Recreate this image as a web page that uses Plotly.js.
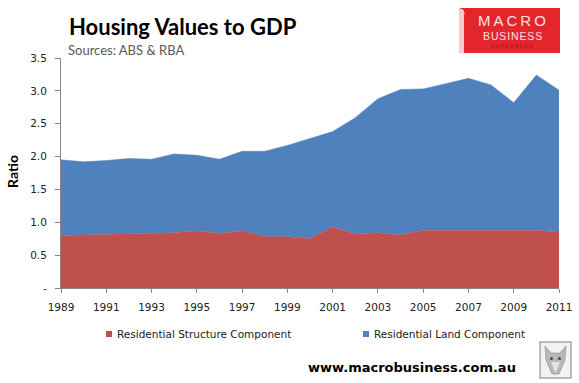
<!DOCTYPE html>
<html>
<head>
<meta charset="utf-8">
<script src="https://cdn.plot.ly/plotly-3.0.1.min.js"></script>
<style>html,body{margin:0;padding:0;background:#fff;}#chart{width:579px;height:383px;}</style>
</head>
<body>
<div id="chart"></div>
<script>
const years = [1989,1990,1991,1992,1993,1994,1995,1996,1997,1998,1999,2000,2001,2002,2003,2004,2005,2006,2007,2008,2009,2010,2011];
const structure = [0.80,0.81,0.82,0.83,0.83,0.84,0.87,0.83,0.87,0.78,0.78,0.755,0.93,0.82,0.84,0.81,0.88,0.88,0.89,0.89,0.88,0.88,0.85];
const land = [1.15,1.11,1.12,1.14,1.13,1.20,1.15,1.13,1.21,1.30,1.39,1.525,1.45,1.77,2.04,2.21,2.15,2.23,2.30,2.20,1.94,2.36,2.16];
const seriesNames = ["Residential Structure Component","Residential Land Component"];
const xTickVals = [1989,1991,1993,1995,1997,1999,2001,2003,2005,2007,2009,2011];
const yTickVals = [0,0.5,1.0,1.5,2.0,2.5,3.0,3.5];
const yTickText = ["-","0.5","1.0","1.5","2.0","2.5","3.0","3.5"];
const titleText = "Housing Values to GDP";
const subtitleText = "Sources: ABS & RBA";
const yTitleText = "Ratio";
const footerText = "www.macrobusiness.com.au";

const RED = "#C0504D", BLUE = "#4F81BD";
const L = 61, R = 20, T = 58, B = 95, W = 579, H = 383;
const pw = W - L - R, ph = H - T - B;
const px = x => (x - L) / pw;
const py = y => (H - B - y) / ph;

const traces = [
  {x: years, y: structure, name: seriesNames[0], type: "scatter", mode: "lines", stackgroup: "one",
   line: {color: RED, width: 0.5}, fillcolor: RED, hoverinfo: "skip"},
  {x: years, y: land, name: seriesNames[1], type: "scatter", mode: "lines", stackgroup: "one",
   line: {color: BLUE, width: 0.5}, fillcolor: BLUE, hoverinfo: "skip"}
];

const tickFont = {family: "DejaVu Sans", size: 10.5, color: "#222"};
const ann = (text, x, y, font, extra) => Object.assign({text, xref: "paper", yref: "paper", x: px(x), y: py(y),
  xanchor: "center", yanchor: "middle", showarrow: false, borderpad: 0, font}, extra || {});

const layout = {
  width: W, height: H,
  margin: {l: L, r: R, t: T, b: B, pad: 0},
  paper_bgcolor: "#fff", plot_bgcolor: "#fff",
  showlegend: false,
  xaxis: {range: [1989, 2011], tickvals: xTickVals, showgrid: false, zeroline: false,
          showline: true, linecolor: "#868686", linewidth: 1, ticks: "outside", ticklen: 4,
          tickcolor: "#868686", tickfont: tickFont, ticklabelstandoff: 5, fixedrange: true},
  yaxis: {range: [0, 3.5], tickvals: yTickVals, ticktext: yTickText, showgrid: false, zeroline: false,
          showline: true, linecolor: "#868686", linewidth: 1, ticks: "outside", ticklen: 5,
          tickcolor: "#868686", tickfont: tickFont, ticklabelstandoff: 6, fixedrange: true},
  shapes: [
    // logo
    {type: "rect", xref: "paper", yref: "paper", x0: px(459), x1: px(560), y0: py(53), y1: py(8),
     fillcolor: "#E3262B", line: {width: 0}, layer: "above"},
    {type: "path", xref: "paper", yref: "paper",
     path: `M ${px(459)} ${py(8)} Q ${px(466)} ${py(9)} ${px(464)} ${py(16)} L ${px(464)} ${py(53)} L ${px(459)} ${py(53)} Z`,
     fillcolor: "#F6C9CA", line: {width: 0}, layer: "above"},
    // legend swatches
    {type: "rect", xref: "paper", yref: "paper", x0: px(106), x1: px(112), y0: py(337), y1: py(331),
     fillcolor: RED, line: {width: 0}},
    {type: "rect", xref: "paper", yref: "paper", x0: px(363), x1: px(369), y0: py(337), y1: py(331),
     fillcolor: BLUE, line: {width: 0}},
    // wolf box
    {type: "rect", xref: "paper", yref: "paper", x0: px(540), x1: px(571), y0: py(378), y1: py(342),
     fillcolor: "#F2F2F2", line: {color: "#A6A6A6", width: 1.5}},
    {type: "path", xref: "paper", yref: "paper",
     path: `M ${px(545)} ${py(346)} L ${px(551)} ${py(353)} L ${px(560)} ${py(353)} L ${px(566)} ${py(346)} L ${px(565)} ${py(360)} L ${px(559)} ${py(374)} L ${px(552)} ${py(374)} L ${px(546)} ${py(360)} Z`,
     fillcolor: "#B8B8B8", line: {color: "#7A7A7A", width: 0.5}},
    {type: "path", xref: "paper", yref: "paper",
     path: `M ${px(551)} ${py(362)} L ${px(555.5)} ${py(373)} L ${px(560)} ${py(362)} Z`,
     fillcolor: "#E4E4E4", line: {width: 0}},
    {type: "circle", xref: "paper", yref: "paper", x0: px(550), x1: px(553), y0: py(360), y1: py(357),
     fillcolor: "#5A3A5A", line: {width: 0}},
    {type: "circle", xref: "paper", yref: "paper", x0: px(558), x1: px(561), y0: py(360), y1: py(357),
     fillcolor: "#5A3A5A", line: {width: 0}}
  ],
  annotations: [
    ann("<b>" + titleText + "</b>", 183, 27, {family: "Lato", size: 22, color: "#000"}),
    ann(subtitleText, 67, 50, {family: "Lato", size: 13, color: "#595959"}, {xanchor: "left"}),
    ann("<b>" + yTitleText + "</b>", 12, 172, {family: "Lato", size: 14, color: "#000"}, {textangle: -90}),
    ann(seriesNames[0], 116, 334, {family: "DejaVu Sans", size: 10.5, color: "#222"}, {xanchor: "left"}),
    ann(seriesNames[1], 373, 334, {family: "DejaVu Sans", size: 10.5, color: "#222"}, {xanchor: "left"}),
    ann("<b>" + footerText + "</b>", 412, 367, {family: "DejaVu Sans", size: 13, color: "#000"}),
    // logo texts
    ann("M\u2009A\u2009C\u2009R\u2009O", 512, 20.5, {family: "Liberation Sans", size: 15, color: "#FBE3E3"}),
    ann("B\u200AU\u200AS\u200AI\u200AN\u200AE\u200AS\u200AS", 512, 36, {family: "Liberation Sans", size: 10.5, color: "#FBE3E3"}),
    ann("S U P E R B L O G", 512, 46, {family: "Liberation Sans", size: 5, color: "#A0161A"})
  ]
};

Plotly.newPlot("chart", traces, layout, {staticPlot: true, displayModeBar: false});
</script>
</body>
</html>
